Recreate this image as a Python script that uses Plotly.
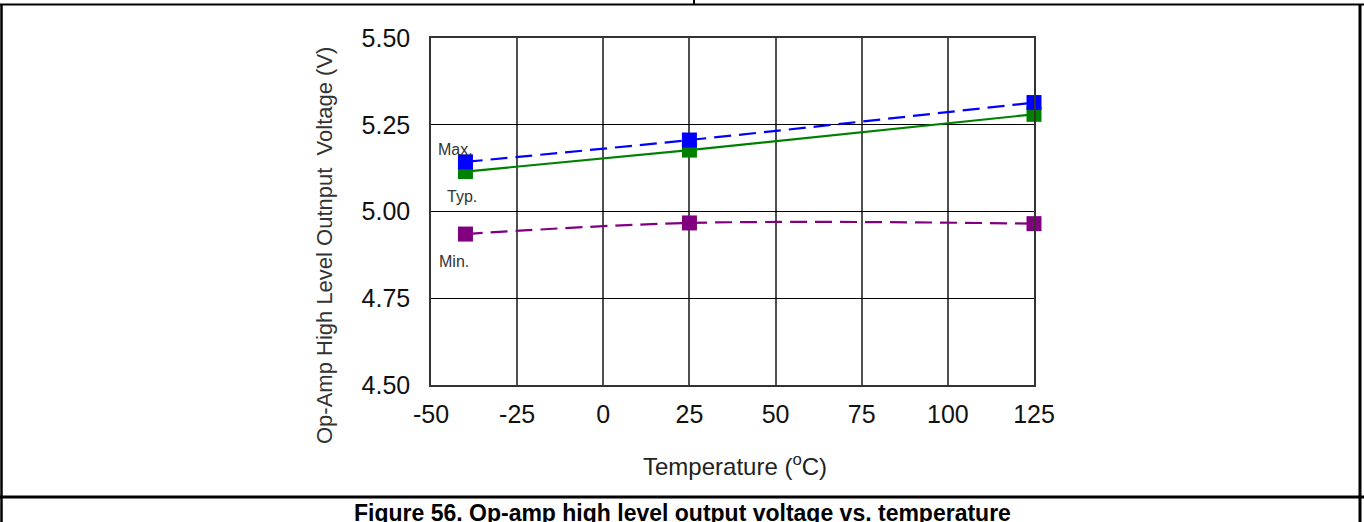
import plotly.graph_objects as go

temps = [-40, 25, 125]
v_max = [5.143, 5.206, 5.314]
v_typ = [5.115, 5.177, 5.280]
v_min = [4.935, 4.967, 4.965]

x_ticks = [-50, -25, 0, 25, 50, 75, 100, 125]
x_ticktext = ["-50", "-25", "0", "25", "50", "75", "100", "125"]
y_ticks = [4.50, 4.75, 5.00, 5.25, 5.50]

W, H = 1364, 522
L, R, T, B = 431, 1034, 38, 385
FONT = "Liberation Sans, Arial"


def px(x):
    return (x - L) / (R - L)


def py(y):
    return (B - y) / (B - T)


fig = go.Figure()

# Typ first so Max markers sit on top, as in the reference
series = [
    ("Typ.", v_typ, "#008000", "solid"),
    ("Max.", v_max, "#0000FF", "17px,8px"),
    ("Min.", v_min, "#800080", "17px,8px"),
]
for name, vals, color, dash in series:
    fig.add_trace(go.Scatter(
        x=temps, y=vals, name=name, mode="lines+markers",
        line=dict(color=color, width=2.2, dash=dash, shape="spline"),
        marker=dict(symbol="square", size=15, color=color),
        showlegend=False, cliponaxis=False,
    ))


def note(text, x, y, size, color="#333333", angle=0, xanchor="center"):
    fig.add_annotation(x=px(x), y=py(y), xref="paper", yref="paper",
                       text=text, showarrow=False, textangle=angle,
                       xanchor=xanchor, yanchor="middle",
                       font=dict(family=FONT, size=size, color=color))


note("Max.", 436, 149, 16, xanchor="left")
note("Typ.", 445, 196, 16, xanchor="left")
note("Min.", 437, 261, 16, xanchor="left")

# axis titles
note("Temperature (<sup>o</sup>C)", 735, 465, 24, color="#222222")
note("Op-Amp High Level Outnput  Voltage (V)", 324, 246, 22, angle=-90)

# table-like frame around the figure
shapes = [
    dict(x0=px(0), x1=px(W), y0=py(4.5), y1=py(4.5), line=dict(color="black", width=2)),
    dict(x0=px(694), x1=px(694), y0=py(0), y1=py(4.5), line=dict(color="black", width=2)),
    dict(x0=px(1.5), x1=px(1.5), y0=py(4.5), y1=py(H), line=dict(color="black", width=2.5)),
    dict(x0=px(1360), x1=px(1360), y0=py(4.5), y1=py(H), line=dict(color="black", width=3)),
    dict(x0=px(0), x1=px(W), y0=py(497), y1=py(497), line=dict(color="black", width=3)),
]
for s in shapes:
    fig.add_shape(type="line", xref="paper", yref="paper", **s)

note("<b>Figure 56. Op-amp high level output voltage vs. temperature</b>", 682, 513, 23,
     color="black")

fig.update_layout(
    width=W, height=H,
    margin=dict(l=L, r=W - R, t=T, b=H - B, pad=0),
    plot_bgcolor="white", paper_bgcolor="white",
    font=dict(family=FONT, color="#111111"),
    xaxis=dict(
        range=[-50, 125], tickvals=x_ticks, ticktext=x_ticktext,
        showgrid=True, gridcolor="#505050", gridwidth=1.5,
        showline=True, linecolor="#333333", linewidth=1.5, mirror=True,
        zeroline=False, ticks="", ticklabelstandoff=6, tickfont=dict(size=25),
    ),
    yaxis=dict(
        range=[4.5, 5.5], tickvals=y_ticks, tickformat=".2f",
        showgrid=True, gridcolor="black", gridwidth=1,
        showline=True, linecolor="#333333", linewidth=1.5, mirror=True,
        zeroline=False, ticks="", ticklabelstandoff=14, tickfont=dict(size=25),
    ),
)

fig.write_html("out.html", config={"displayModeBar": False},
               post_script="document.body.style.margin='0px';")
